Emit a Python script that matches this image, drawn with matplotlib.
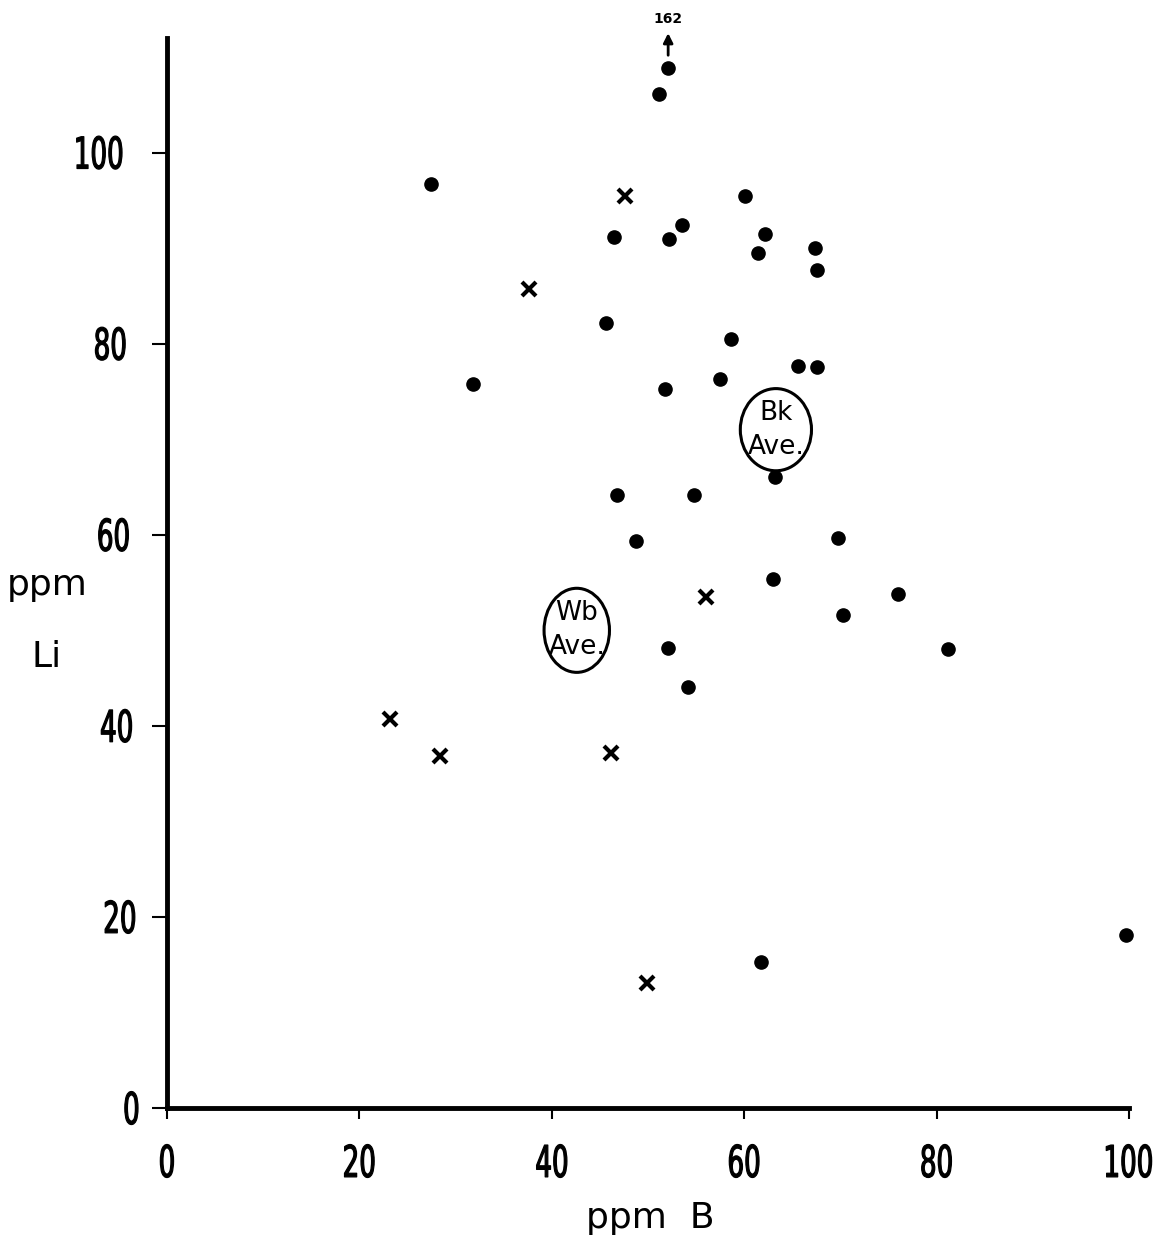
import numpy as np
import matplotlib
matplotlib.use('Agg')
import matplotlib.pyplot as plt
from matplotlib.patches import Ellipse, PathPatch
from matplotlib.textpath import TextPath
from matplotlib.font_manager import FontProperties
from matplotlib.transforms import Affine2D

# filled circles (ppm B, ppm Li)
b_dot = [27.4, 31.8, 45.6, 46.5, 46.8, 48.8, 51.1, 52.1, 52.2, 53.5, 51.8, 54.8,
         52.1, 54.2, 57.5, 58.6, 60.1, 61.4, 62.2, 63.2, 63.0, 61.7, 65.6, 67.6,
         67.4, 67.6, 69.8, 70.3, 76.0, 81.2, 99.7]
li_dot = [96.7, 75.8, 82.2, 91.2, 64.2, 59.3, 106.1, 108.9, 91.0, 92.4, 75.3, 64.2,
          48.2, 44.1, 76.3, 80.5, 95.5, 89.5, 91.5, 66.1, 55.4, 15.3, 77.7, 77.6,
          90.0, 87.7, 59.7, 51.6, 53.8, 48.0, 18.1]

# crosses
b_x = [47.6, 37.6, 56.0, 23.2, 28.4, 46.2, 49.9]
li_x = [95.5, 85.7, 53.5, 40.7, 36.8, 37.2, 13.1]

# averages (center B, center Li, label)
ave_b = [63.3, 42.6]
ave_li = [71.0, 50.0]
ave_lab = ['Bk\nAve.', 'Wb\nAve.']

xticks = [0, 20, 40, 60, 80, 100]
yticks = [0, 20, 40, 60, 80, 100]

W, H = 1161, 1253
fig = plt.figure(figsize=(W/100, H/100), dpi=100)
ax = fig.add_axes([0.1438, 0.1157, 0.8286, 0.854])

ax.plot(b_dot, li_dot, 'o', color='k', ms=9.5, clip_on=False)
ax.plot(b_x, li_x, 'x', color='k', ms=10, mew=3, clip_on=False)

for bx, ly, lab, w, h in zip(ave_b, ave_li, ave_lab, [7.4, 6.8], [8.6, 8.8]):
    ax.add_patch(Ellipse((bx, ly), w, h, fill=False, ec='k', lw=2.2))
    ax.text(bx, ly, lab, ha='center', va='center', fontsize=19,
            linespacing=1.4, family='DejaVu Sans')

# off-scale point (Li = 162)
ax.annotate('', xy=(52.1, 112.8), xytext=(52.1, 109.9),
            arrowprops=dict(arrowstyle='-|>', color='k', lw=2, mutation_scale=14),
            annotation_clip=False)
ax.text(52.1, 113.3, '162', ha='center', va='bottom', fontsize=10,
        fontweight='bold', clip_on=False)

ax.set_xlim(0, 100)
ax.set_ylim(0, 112)
ax.spines['top'].set_visible(False)
ax.spines['right'].set_visible(False)
ax.spines['left'].set_linewidth(3.5)
ax.spines['bottom'].set_linewidth(3.5)
ax.spines['bottom'].set_bounds(0, 100)

ax.set_xticks(xticks)
ax.set_yticks(yticks)
ax.set_xticklabels([])
ax.set_yticklabels([])
ax.tick_params(axis='y', direction='out', length=11, width=1.5)
ax.tick_params(axis='x', direction='out', length=8, width=1.5)

# condensed tick numbers, drawn as squeezed text paths
fp = FontProperties(family='DejaVu Sans', weight='normal')
ref = TextPath((0, 0), '0', size=100, prop=fp).get_extents()
size = 100 * 33.0 / ref.height
squeeze = 0.6

def cond_label(s, px, py, ha):
    # px, py in pixels from top-left of the figure
    tp = TextPath((0, 0), s, size=size, prop=fp)
    bb = tp.get_extents()
    w = bb.width * squeeze
    x0 = px - w / 2 if ha == 'center' else px - w
    y0 = (H - py) - bb.height / 2
    tr = (Affine2D().translate(-bb.x0, -bb.y0).scale(squeeze, 1)
          .translate(x0, y0).scale(1.0 / W, 1.0 / H))
    fig.add_artist(PathPatch(tr.transform_path(tp), fc='k', ec='k', lw=0.9,
                             joinstyle='round', transform=fig.transFigure))

fig.canvas.draw()
for t in xticks:
    px = ax.transData.transform((t, 0))[0]
    cond_label(str(t), px, 1161, 'center')
for t in yticks:
    py = H - ax.transData.transform((0, t))[1]
    right = 122 + (py - 152) * 16.0 / 956
    cond_label(str(t), right, py, 'right')

fig.text(47/W, 1 - 585/H, 'ppm', ha='center', va='center', fontsize=26)
fig.text(47/W, 1 - 657/H, 'Li', ha='center', va='center', fontsize=26)
fig.text(650/W, 1 - 1218/H, 'ppm  B', ha='center', va='center', fontsize=26)

plt.savefig('out.png', dpi=100)
